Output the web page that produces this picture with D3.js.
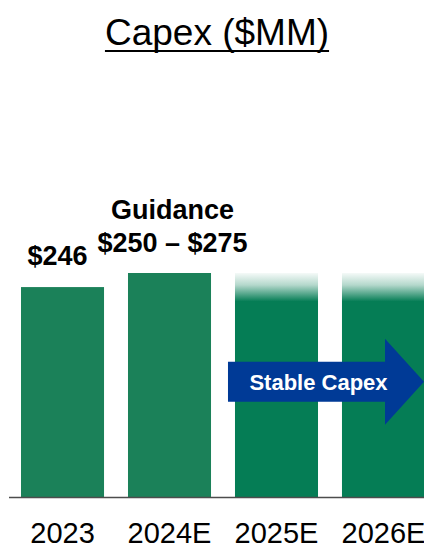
<!DOCTYPE html>
<html>
<head>
<meta charset="utf-8">
<script src="https://cdn.jsdelivr.net/npm/d3@7"></script>
<style>
  body { margin: 0; background: #fff; }
  text { font-family: "Liberation Sans", Arial, sans-serif; }
</style>
</head>
<body>
<div id="chart"></div>
<script>
// chart data
var categories = ["2023", "2024E", "2025E", "2026E"];
var values = [246, 262.5, 262.5, 262.5];
var faded = [false, false, true, true];
var valueLabels = ["$246", "$250 \u2013 $275", "", ""];
var title = "Capex ($MM)";
var guidanceText = "Guidance";
var arrowText = "Stable Capex";

var width = 424,
    height = 548,
    baseY = 497;

var svg = d3.select("#chart").append("svg")
    .attr("width", width)
    .attr("height", height);

var defs = svg.append("defs");

// x: band scale for the four years
var x = d3.scaleBand()
    .domain(categories)
    .range([21, 425])
    .paddingInner(0.224)
    .paddingOuter(0);

// y: linear scale, 0 at the axis line
var y = d3.scaleLinear()
    .domain([0, 300])
    .range([baseY, baseY - 256]);

// title, underlined
var t = svg.append("text")
    .attr("x", 217)
    .attr("y", 45)
    .attr("text-anchor", "middle")
    .attr("font-size", 37)
    .attr("fill", "#000")
    .text(title);
var tb = t.node().getBBox();
svg.append("line")
    .attr("x1", tb.x).attr("x2", tb.x + tb.width)
    .attr("y1", 51).attr("y2", 51)
    .attr("stroke", "#000").attr("stroke-width", 2);

// fade gradient for the estimated years
var grad = defs.append("linearGradient")
    .attr("id", "fade")
    .attr("gradientUnits", "userSpaceOnUse")
    .attr("x1", 0).attr("x2", 0)
    .attr("y1", y(262.5)).attr("y2", y(262.5) + 30);
grad.append("stop").attr("offset", 0).attr("stop-color", "#057d55").attr("stop-opacity", 0.04);
grad.append("stop").attr("offset", 0.4).attr("stop-color", "#057d55").attr("stop-opacity", 0.3);
grad.append("stop").attr("offset", 0.95).attr("stop-color", "#057d55").attr("stop-opacity", 1);
grad.append("stop").attr("offset", 1).attr("stop-color", "#057d55").attr("stop-opacity", 1);

// bars
svg.selectAll("rect.bar")
    .data(categories)
    .enter().append("rect")
    .attr("class", "bar")
    .attr("x", function (d) { return x(d); })
    .attr("width", x.bandwidth())
    .attr("y", function (d, i) { return y(values[i]); })
    .attr("height", function (d, i) { return baseY - y(values[i]); })
    .attr("fill", function (d, i) { return faded[i] ? "url(#fade)" : "#1b8159"; });

// axis line
svg.append("line")
    .attr("x1", 9).attr("x2", width)
    .attr("y1", baseY + 0.5).attr("y2", baseY + 0.5)
    .attr("stroke", "#4d4d4d").attr("stroke-width", 1.5);

// category labels
svg.selectAll("text.cat")
    .data(categories)
    .enter().append("text")
    .attr("class", "cat")
    .attr("x", function (d) { return x(d) + x.bandwidth() / 2; })
    .attr("y", 543)
    .attr("text-anchor", "middle")
    .attr("font-size", 29)
    .attr("fill", "#000")
    .text(function (d) { return d; });

// value labels
svg.selectAll("text.val")
    .data(categories)
    .enter().append("text")
    .attr("class", "val")
    .attr("x", function (d, i) { return x(d) + x.bandwidth() / 2 + (i === 1 ? 3 : -5); })
    .attr("y", function (d, i) { return y(values[i]) - (i === 1 ? 21 : 22); })
    .attr("text-anchor", "middle")
    .attr("font-size", 27)
    .attr("font-weight", "bold")
    .attr("fill", "#000")
    .text(function (d, i) { return valueLabels[i]; });

svg.append("text")
    .attr("x", x("2024E") + x.bandwidth() / 2 + 3)
    .attr("y", y(values[1]) - 54)
    .attr("text-anchor", "middle")
    .attr("font-size", 27)
    .attr("font-weight", "bold")
    .attr("fill", "#000")
    .text(guidanceText);

// "Stable Capex" arrow
var ax0 = x("2025E") - 7,
    axHead = 385,
    axTip = width,
    aMid = y(135),
    bodyH = 20,
    headH = 43;
svg.append("path")
    .attr("d", d3.line()([
        [ax0, aMid - bodyH], [axHead, aMid - bodyH], [axHead, aMid - headH],
        [axTip, aMid], [axHead, aMid + headH], [axHead, aMid + bodyH],
        [ax0, aMid + bodyH]
    ]) + "Z")
    .attr("fill", "#003a96");
svg.append("text")
    .attr("x", (ax0 + axHead) / 2 + 12)
    .attr("y", aMid + 8)
    .attr("text-anchor", "middle")
    .attr("font-size", 22)
    .attr("font-weight", "bold")
    .attr("fill", "#fff")
    .text(arrowText);
</script>
</body>
</html>
